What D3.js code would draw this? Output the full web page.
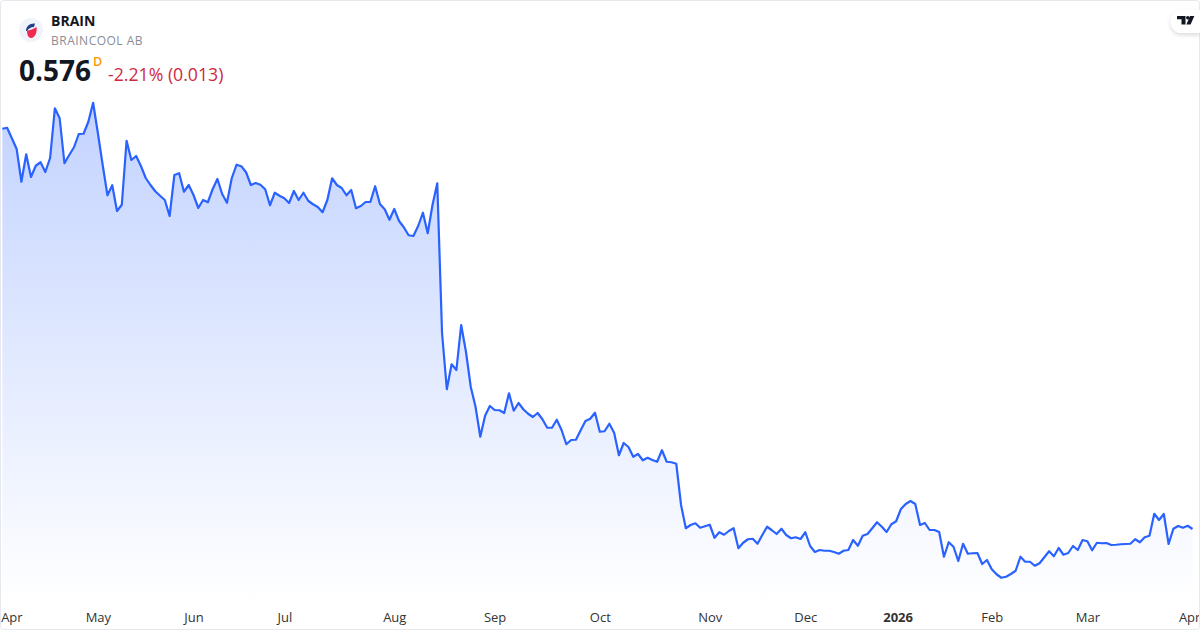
<!DOCTYPE html>
<html>
<head>
<meta charset="utf-8">
<script src="https://cdn.jsdelivr.net/npm/d3@7"></script>
<style>
html, body { margin: 0; padding: 0; background: #fff; }
svg { display: block; font-family: "Open Sans", sans-serif; }
</style>
</head>
<body>
<div id="chart"></div>
<script>
// daily closes
var prices = [
  2.177, 2.181, 2.139, 2.096, 1.965, 2.075, 1.984, 2.029, 2.043, 2.004,
  2.060, 2.259, 2.219, 2.039, 2.072, 2.103, 2.156, 2.157, 2.205, 2.281,
  2.159, 2.032, 1.911, 1.951, 1.848, 1.873, 2.129, 2.052, 2.068, 2.028,
  1.980, 1.952, 1.927, 1.909, 1.892, 1.828, 1.992, 1.999, 1.925, 1.952,
  1.912, 1.860, 1.892, 1.883, 1.935, 1.976, 1.916, 1.881, 1.979, 2.033,
  2.027, 2.003, 1.952, 1.960, 1.953, 1.935, 1.871, 1.921, 1.909, 1.899,
  1.880, 1.928, 1.892, 1.921, 1.889, 1.875, 1.864, 1.843, 1.892, 1.979,
  1.952, 1.940, 1.911, 1.932, 1.859, 1.868, 1.884, 1.884, 1.947, 1.876,
  1.855, 1.813, 1.856, 1.808, 1.783, 1.751, 1.748, 1.788, 1.841, 1.759,
  1.872, 1.959, 1.359, 1.135, 1.235, 1.212, 1.392, 1.285, 1.145, 1.065,
  0.945, 1.029, 1.068, 1.052, 1.051, 1.040, 1.119, 1.049, 1.080, 1.055,
  1.037, 1.024, 1.040, 1.015, 0.981, 0.981, 1.013, 0.972, 0.915, 0.932,
  0.933, 0.971, 1.008, 1.017, 1.041, 0.965, 0.967, 0.997, 0.961, 0.871,
  0.920, 0.904, 0.865, 0.876, 0.851, 0.861, 0.852, 0.845, 0.891, 0.845,
  0.843, 0.837, 0.672, 0.579, 0.592, 0.599, 0.581, 0.587, 0.593, 0.541,
  0.563, 0.553, 0.568, 0.579, 0.499, 0.521, 0.535, 0.537, 0.517, 0.552,
  0.585, 0.571, 0.556, 0.577, 0.552, 0.539, 0.543, 0.536, 0.563, 0.508,
  0.484, 0.492, 0.489, 0.489, 0.484, 0.477, 0.489, 0.492, 0.532, 0.509,
  0.549, 0.556, 0.579, 0.603, 0.585, 0.564, 0.595, 0.607, 0.656, 0.676,
  0.688, 0.676, 0.592, 0.600, 0.572, 0.572, 0.564, 0.465, 0.523, 0.505,
  0.448, 0.517, 0.477, 0.479, 0.480, 0.436, 0.452, 0.415, 0.395, 0.381,
  0.385, 0.396, 0.409, 0.465, 0.445, 0.445, 0.429, 0.439, 0.463, 0.487,
  0.467, 0.500, 0.473, 0.480, 0.508, 0.492, 0.532, 0.527, 0.491, 0.521,
  0.519, 0.520, 0.512, 0.513, 0.515, 0.516, 0.517, 0.535, 0.523, 0.543,
  0.549, 0.637, 0.612, 0.636, 0.516, 0.577, 0.588, 0.581, 0.589, 0.576
];
// bar number where each month label sits
var tickIndex = [1.9, 20, 40, 59, 82, 103, 125, 148, 168, 187.3, 207, 227, 248.3];
var tickLabels = ["Apr", "May", "Jun", "Jul", "Aug", "Sep", "Oct", "Nov", "Dec", "2026", "Feb", "Mar", "Apr"];

var width = 1200, height = 630;

var x = d3.scaleLinear()
  .domain([0, prices.length - 1])
  .range([2.3, 1192.5]);

var y = d3.scaleLinear()
  .domain([0.3, 2.4])
  .range([598, 73]);

var svg = d3.select("#chart").append("svg")
  .attr("width", width)
  .attr("height", height)
  .attr("viewBox", [0, 0, width, height]);

var defs = svg.append("defs");

var fade = defs.append("linearGradient")
  .attr("id", "fade")
  .attr("gradientUnits", "userSpaceOnUse")
  .attr("x1", 0).attr("x2", 0)
  .attr("y1", y(d3.max(prices))).attr("y2", 602);
fade.append("stop").attr("offset", 0).attr("stop-color", "#2962ff").attr("stop-opacity", 0.28);
fade.append("stop").attr("offset", 1).attr("stop-color", "#2962ff").attr("stop-opacity", 0);

var shadow = defs.append("filter")
  .attr("id", "pill")
  .attr("x", "-30%").attr("y", "-30%").attr("width", "160%").attr("height", "170%");
shadow.append("feDropShadow")
  .attr("dx", 0).attr("dy", 2).attr("stdDeviation", 2)
  .attr("flood-color", "#000").attr("flood-opacity", 0.15);

var area = d3.area()
  .x((d, i) => x(i))
  .y0(602)
  .y1(d => y(d));

var line = d3.line()
  .x((d, i) => x(i))
  .y(d => y(d));

svg.append("path")
  .datum(prices)
  .attr("fill", "url(#fade)")
  .attr("d", area);

svg.append("path")
  .datum(prices)
  .attr("fill", "none")
  .attr("stroke", "#2962ff")
  .attr("stroke-width", 2.2)
  .attr("stroke-linejoin", "round")
  .attr("d", line);

var xAxis = d3.axisBottom(x)
  .tickValues(tickIndex)
  .tickFormat((d, i) => tickLabels[i])
  .tickSize(0)
  .tickPadding(0);

svg.append("g")
  .attr("transform", "translate(0,613)")
  .call(xAxis)
  .call(g => g.select(".domain").remove())
  .call(g => g.selectAll("text")
    .attr("fill", "#333")
    .attr("font-size", 13)
    .attr("font-family", '"Open Sans", sans-serif')
    .attr("font-weight", (d, i) => tickLabels[i] == "2026" ? 700 : 400));

// frame
svg.append("rect")
  .attr("x", 0.5).attr("y", 0.5)
  .attr("width", width - 1).attr("height", height - 1)
  .attr("rx", 3)
  .attr("fill", "none")
  .attr("stroke", "#e6e8ee");

// symbol logo
var logo = svg.append("g").attr("transform", "translate(31,30)");
logo.append("circle").attr("r", 12).attr("fill", "#f0f3fa");
logo.append("path")
  .attr("d", "M-5,1 C-5,-4 -1,-7 4,-6.5 L3,-3 C0,-3 -3,-1 -4,1 Z")
  .attr("fill", "#1f3f86");
logo.append("path")
  .attr("d", "M-4,0.5 C-1,0.5 2,-1 5.5,-3 C6.5,2 4,8 0,8 C-3,8 -4,4 -4,0.5 Z")
  .attr("fill", "#ee2a4f");

// header
svg.append("text").attr("x", 51).attr("y", 26)
  .attr("font-size", 14).attr("font-weight", 700).attr("fill", "#131722").text("BRAIN");
svg.append("text").attr("x", 51).attr("y", 45)
  .attr("font-size", 12).attr("letter-spacing", 0.5).attr("fill", "#8a8d96").text("BRAINCOOL AB");
svg.append("text").attr("x", 19).attr("y", 81)
  .attr("font-size", 28).attr("font-weight", 700).attr("fill", "#131722").text("0.576");
svg.append("text").attr("x", 93).attr("y", 66)
  .attr("font-size", 12.5).attr("font-weight", 600).attr("fill", "#ff9800").text("D");
svg.append("text").attr("x", 108).attr("y", 81)
  .attr("font-size", 17.7).attr("fill", "#d0293f").text("-2.21% (0.013)");

// tradingview badge
svg.append("path")
  .attr("d", "M1200,10 H1182 A11.5,11.5 0 0 0 1182,33 H1200 Z")
  .attr("fill", "#fff")
  .attr("filter", "url(#pill)");
var tv = svg.append("g").attr("fill", "#131722");
tv.append("path").attr("d", "M1177,16 H1185.5 V24.5 H1181.5 V19.3 H1177 Z");
tv.append("circle").attr("cx", 1187.8).attr("cy", 17.8).attr("r", 1.8);
tv.append("path").attr("d", "M1190,16 H1194.3 L1190.6,24.5 H1186.4 Z");
</script>
</body>
</html>
